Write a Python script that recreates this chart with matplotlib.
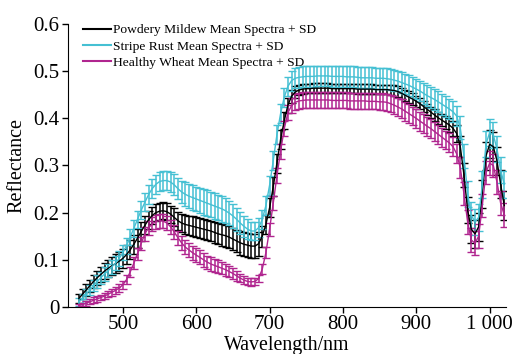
import numpy as np
import matplotlib
matplotlib.use("Agg")
import matplotlib.pyplot as plt
from matplotlib.lines import Line2D

# ==============================
# Data (5 nm steps)
# ==============================
wavelength = np.arange(440, 1021, 5)

pm_mean = [
    0.018, 0.027, 0.036, 0.045, 0.054, 0.062, 0.069, 0.076,
    0.082, 0.087, 0.092, 0.097, 0.103, 0.111, 0.121, 0.133,
    0.146, 0.160, 0.173, 0.185, 0.194, 0.200, 0.203, 0.204,
    0.202, 0.197, 0.190, 0.183, 0.178, 0.175, 0.173, 0.171,
    0.169, 0.167, 0.165, 0.163, 0.161, 0.158, 0.155, 0.153,
    0.151, 0.148, 0.144, 0.140, 0.136, 0.133, 0.131, 0.129,
    0.129, 0.134, 0.150, 0.175, 0.210, 0.255, 0.305, 0.355,
    0.395, 0.428, 0.447, 0.456, 0.460, 0.462, 0.463, 0.463,
    0.464, 0.464, 0.464, 0.464, 0.464, 0.463, 0.463, 0.463,
    0.463, 0.463, 0.463, 0.463, 0.462, 0.462, 0.462, 0.462,
    0.462, 0.461, 0.461, 0.461, 0.461, 0.460, 0.459, 0.457,
    0.453, 0.449, 0.445, 0.441, 0.436, 0.431, 0.425, 0.419,
    0.413, 0.407, 0.401, 0.396, 0.391, 0.386, 0.379, 0.368,
    0.340, 0.280, 0.205, 0.165, 0.155, 0.170, 0.240, 0.320,
    0.345, 0.340, 0.310, 0.260, 0.215,
]
pm_sd = [
    0.010, 0.011, 0.012, 0.013, 0.014, 0.015, 0.016, 0.017,
    0.018, 0.019, 0.020, 0.020, 0.020, 0.020, 0.020, 0.020,
    0.020, 0.020, 0.019, 0.019, 0.018, 0.018, 0.018, 0.018,
    0.018, 0.018, 0.019, 0.019, 0.020, 0.020, 0.020, 0.021,
    0.021, 0.021, 0.021, 0.022, 0.022, 0.022, 0.022, 0.023,
    0.023, 0.023, 0.024, 0.024, 0.025, 0.025, 0.026, 0.026,
    0.026, 0.025, 0.022, 0.020, 0.020, 0.020, 0.020, 0.020,
    0.018, 0.016, 0.014, 0.012, 0.011, 0.010, 0.010, 0.010,
    0.010, 0.010, 0.010, 0.010, 0.010, 0.010, 0.010, 0.010,
    0.010, 0.010, 0.010, 0.010, 0.010, 0.010, 0.010, 0.010,
    0.010, 0.010, 0.010, 0.010, 0.010, 0.011, 0.011, 0.011,
    0.012, 0.012, 0.012, 0.012, 0.012, 0.012, 0.012, 0.012,
    0.012, 0.012, 0.013, 0.013, 0.014, 0.015, 0.016, 0.018,
    0.022, 0.025, 0.028, 0.030, 0.030, 0.030, 0.030, 0.030,
    0.030, 0.030, 0.030, 0.030, 0.030,
]

sr_mean = [
    0.010, 0.018, 0.027, 0.036, 0.045, 0.054, 0.062, 0.070,
    0.077, 0.085, 0.093, 0.103, 0.115, 0.130, 0.148, 0.167,
    0.186, 0.205, 0.222, 0.238, 0.251, 0.260, 0.266, 0.268,
    0.268, 0.265, 0.259, 0.251, 0.244, 0.239, 0.235, 0.232,
    0.229, 0.226, 0.223, 0.220, 0.217, 0.214, 0.211, 0.208,
    0.204, 0.199, 0.193, 0.186, 0.178, 0.171, 0.165, 0.161,
    0.161, 0.168, 0.185, 0.215, 0.258, 0.310, 0.365, 0.410,
    0.445, 0.468, 0.480, 0.485, 0.487, 0.488, 0.489, 0.489,
    0.489, 0.490, 0.490, 0.490, 0.490, 0.489, 0.489, 0.489,
    0.489, 0.488, 0.488, 0.488, 0.487, 0.486, 0.486, 0.486,
    0.486, 0.485, 0.485, 0.485, 0.484, 0.483, 0.481, 0.479,
    0.476, 0.473, 0.470, 0.466, 0.462, 0.458, 0.453, 0.448,
    0.444, 0.440, 0.435, 0.430, 0.425, 0.420, 0.414, 0.405,
    0.380, 0.320, 0.240, 0.195, 0.180, 0.190, 0.260, 0.345,
    0.370, 0.365, 0.335, 0.290, 0.260,
]
sr_sd = [
    0.008, 0.009, 0.010, 0.011, 0.012, 0.013, 0.013, 0.014,
    0.014, 0.015, 0.015, 0.016, 0.016, 0.017, 0.017, 0.018,
    0.018, 0.019, 0.019, 0.020, 0.020, 0.020, 0.020, 0.020,
    0.020, 0.021, 0.022, 0.023, 0.024, 0.025, 0.025, 0.026,
    0.026, 0.026, 0.027, 0.027, 0.027, 0.027, 0.027, 0.027,
    0.026, 0.026, 0.025, 0.024, 0.023, 0.022, 0.021, 0.020,
    0.020, 0.020, 0.020, 0.020, 0.020, 0.020, 0.020, 0.020,
    0.020, 0.020, 0.021, 0.021, 0.022, 0.022, 0.022, 0.022,
    0.022, 0.022, 0.022, 0.022, 0.022, 0.022, 0.022, 0.022,
    0.022, 0.022, 0.022, 0.022, 0.022, 0.022, 0.022, 0.022,
    0.022, 0.022, 0.022, 0.022, 0.022, 0.022, 0.022, 0.022,
    0.022, 0.022, 0.022, 0.022, 0.022, 0.022, 0.022, 0.022,
    0.022, 0.022, 0.022, 0.022, 0.022, 0.022, 0.022, 0.022,
    0.024, 0.026, 0.028, 0.028, 0.028, 0.028, 0.028, 0.028,
    0.028, 0.028, 0.028, 0.028, 0.028,
]

hw_mean = [
    0.003, 0.005, 0.008, 0.011, 0.014, 0.017, 0.020, 0.023,
    0.027, 0.031, 0.035, 0.040, 0.047, 0.058, 0.074, 0.093,
    0.113, 0.135, 0.155, 0.168, 0.176, 0.181, 0.183, 0.182,
    0.178, 0.170, 0.159, 0.147, 0.136, 0.127, 0.121, 0.115,
    0.110, 0.105, 0.100, 0.095, 0.091, 0.088, 0.085, 0.082,
    0.079, 0.075, 0.071, 0.066, 0.061, 0.057, 0.054, 0.053,
    0.054, 0.060, 0.080, 0.115, 0.165, 0.220, 0.278, 0.330,
    0.378, 0.412, 0.427, 0.434, 0.437, 0.438, 0.439, 0.439,
    0.439, 0.439, 0.439, 0.439, 0.439, 0.438, 0.438, 0.438,
    0.438, 0.438, 0.437, 0.437, 0.437, 0.437, 0.437, 0.436,
    0.436, 0.436, 0.435, 0.435, 0.434, 0.431, 0.428, 0.424,
    0.420, 0.415, 0.410, 0.405, 0.400, 0.394, 0.389, 0.383,
    0.378, 0.372, 0.366, 0.360, 0.354, 0.348, 0.340, 0.325,
    0.295, 0.240, 0.180, 0.142, 0.135, 0.150, 0.215, 0.285,
    0.305, 0.300, 0.265, 0.220, 0.195,
]
hw_sd = [
    0.004, 0.004, 0.005, 0.005, 0.006, 0.006, 0.006, 0.007,
    0.007, 0.007, 0.008, 0.008, 0.009, 0.010, 0.011, 0.012,
    0.013, 0.014, 0.015, 0.015, 0.015, 0.015, 0.015, 0.015,
    0.015, 0.015, 0.015, 0.015, 0.015, 0.015, 0.015, 0.015,
    0.015, 0.015, 0.015, 0.014, 0.014, 0.014, 0.014, 0.013,
    0.013, 0.012, 0.011, 0.010, 0.009, 0.008, 0.008, 0.008,
    0.008, 0.008, 0.010, 0.012, 0.014, 0.015, 0.016, 0.016,
    0.016, 0.016, 0.016, 0.017, 0.017, 0.017, 0.017, 0.017,
    0.017, 0.017, 0.017, 0.017, 0.017, 0.017, 0.017, 0.017,
    0.017, 0.017, 0.017, 0.017, 0.017, 0.017, 0.017, 0.017,
    0.017, 0.017, 0.017, 0.018, 0.018, 0.018, 0.019, 0.019,
    0.020, 0.020, 0.020, 0.020, 0.020, 0.020, 0.020, 0.020,
    0.020, 0.020, 0.020, 0.020, 0.020, 0.020, 0.020, 0.020,
    0.022, 0.024, 0.025, 0.025, 0.025, 0.025, 0.025, 0.025,
    0.025, 0.025, 0.025, 0.025, 0.025,
]

series_labels = [
    "Powdery Mildew Mean Spectra + SD",
    "Stripe Rust Mean Spectra + SD",
    "Healthy Wheat Mean Spectra + SD",
]
series_colors = ["#000000", "#45C0D3", "#B0258F"]

xtick_values = [500, 600, 700, 800, 900, 1000]
xtick_labels = ["500", "600", "700", "800", "900", "1 000"]
ytick_values = [0, 0.1, 0.2, 0.3, 0.4, 0.5, 0.6]
ytick_labels = ["0", "0.1", "0.2", "0.3", "0.4", "0.5", "0.6"]

# ==============================
# Plot
# ==============================
plt.rcParams["font.family"] = ["Liberation Serif", "DejaVu Serif"]

fig = plt.figure(figsize=(5.14, 3.54), dpi=100)
ax = fig.add_axes([0.132, 0.133, 0.852, 0.799])

means = [pm_mean, sr_mean, hw_mean]
sds = [pm_sd, sr_sd, hw_sd]
for m, s, c in zip(means, sds, series_colors):
    ax.errorbar(wavelength, m, yerr=s, color=c, ecolor=c,
                linewidth=1.0, elinewidth=1.1, capsize=3.2, capthick=1.0)

ax.set_xlim(425, 1022)
ax.set_ylim(0, 0.6)
ax.set_xticks(xtick_values)
ax.set_xticklabels(xtick_labels)
ax.set_yticks(ytick_values)
ax.set_yticklabels(ytick_labels)
ax.tick_params(labelsize=15, length=4, width=1, pad=2)
ax.spines["top"].set_visible(False)
ax.spines["right"].set_visible(False)

ax.set_xlabel("Wavelength/nm", fontsize=14.3, labelpad=1.5)
ax.set_ylabel("Reflectance", fontsize=14.5, labelpad=5)

handles = [Line2D([0], [0], color=c, lw=1.5) for c in series_colors]
ax.legend(handles, series_labels, loc="upper left", frameon=False,
          fontsize=9.7, handlelength=2.1, handletextpad=0.15,
          labelspacing=0.3, borderaxespad=0.0,
          bbox_to_anchor=(0.022, 1.02))

fig.savefig("out.png", dpi=100)
